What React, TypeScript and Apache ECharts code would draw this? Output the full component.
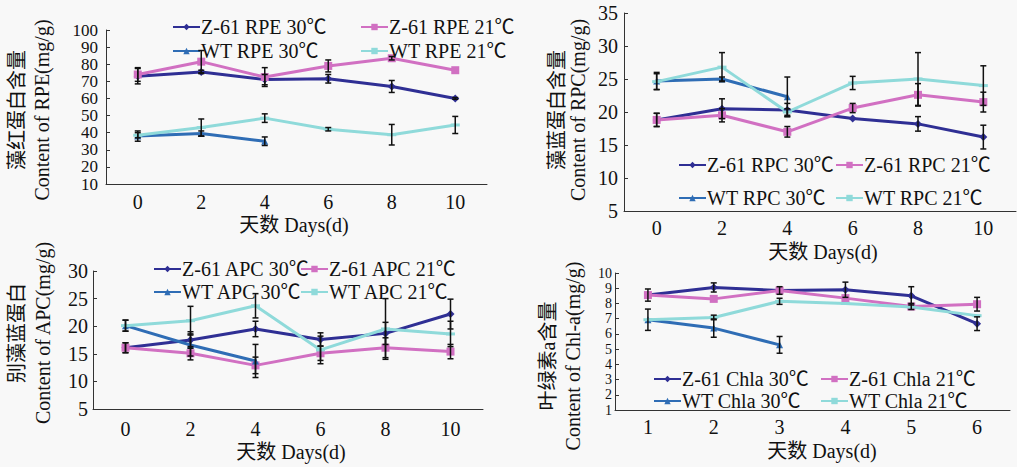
import React, { useEffect, useRef } from "react";
import * as echarts from "echarts";

const days = ["0", "2", "4", "6", "8", "10"];
const chlaDays = ["1", "2", "3", "4", "5", "6"];

// y tick labels
const rpeTicks = [10, 20, 30, 40, 50, 60, 70, 80, 90, 100];
const rpcTicks = [5, 10, 15, 20, 25, 30, 35];
const apcTicks = [5, 10, 15, 20, 25, 30];
const chlTicks = [1, 2, 3, 4, 5, 6, 7, 8, 9, 10];

// RPE (mg/g)
const rpeZ30 = [73, 75.5, 71, 71.5, 67, 60];
const rpeZ30Err = [4.5, 1, 3, 2.5, 3.5, 0.5];
const rpeZ21 = [74, 81.5, 72.5, 79, 83.5, 76.5];
const rpeZ21Err = [4, 6.5, 5.5, 3.5, 1, 0];
const rpeW30 = [38, 39.5, 35];
const rpeW30Err = [3, 1.5, 2.5];
const rpeW21 = [38.5, 43, 48.5, 42, 38.8, 44.5];
const rpeW21Err = [1.5, 5, 2.5, 1, 6, 5];

// RPC (mg/g)
const rpcZ30 = [18.8, 20.5, 20.3, 19, 18.2, 16.2];
const rpcZ30Err = [1, 1.5, 1, 0, 1.1, 1.8];
const rpcZ21 = [18.8, 19.5, 17, 20.6, 22.6, 21.5];
const rpcZ21Err = [1, 1, 0.8, 0.7, 1.7, 1.5];
const rpcW30 = [24.7, 25, 22.3];
const rpcW30Err = [1.3, 0.3, 3];
const rpcW21 = [24.6, 26.8, 20, 24.4, 25, 24];
const rpcW21Err = [1.2, 2.2, 0.5, 1, 4, 3];

// APC (mg/g)
const apcZ30 = [16.1, 17.5, 19.5, 17.6, 18.7, 22.2];
const apcZ30Err = [0.9, 1.5, 1.4, 1.2, 2, 2.7];
const apcZ21 = [16.1, 15.1, 12.9, 15.1, 16.1, 15.4];
const apcZ21Err = [0.9, 1.2, 1.5, 1.3, 1.8, 1.3];
const apcW30 = [20.1, 16.6, 13.7];
const apcW30Err = [1, 2, 3];
const apcW21 = [20.1, 21, 23.7, 15.7, 19.5, 18.6];
const apcW21Err = [1, 2.6, 2.2, 2.5, 5.5, 2.3];

// Chl-a (mg/g)
const chlZ30 = [8.55, 9.05, 8.85, 8.9, 8.5, 6.67];
const chlZ30Err = [0.4, 0.3, 0.25, 0.5, 0.6, 0.45];
const chlZ21 = [8.55, 8.3, 8.85, 8.35, 7.8, 7.95];
const chlZ21Err = [0, 0, 0, 0, 0.2, 0.45];
const chlW30 = [6.93, 6.38, 5.28];
const chlW30Err = [0.7, 0.6, 0.55];
const chlW21 = [6.93, 7.08, 8.14, 8.0, 7.76, 7.2];
const chlW21Err = [0, 0.15, 0.2, 0, 0, 0];

const FONT = "'Liberation Serif', 'Noto Sans CJK SC', serif";
const NAVY = "#2f2f94";
const PINK = "#d170c2";
const BLUE = "#2f6db5";
const CYAN = "#8fdada";

type Panel = {
  cats: string[];
  ticks: number[];
  min: number;
  max: number;
  interval: number;
  grid: { left: number; top: number; width: number; height: number };
  labelMargin: number;
  yLabelMargin: number;
  yLabelSize: number;
  names: string[];
  values: number[][];
  errs: number[][];
  legendCols: number[];
  legendTop: number;
  legendGap: number;
  yTitle: string;
  yTitlePos: [number, number];
  yTitleLH: number;
  xTitlePos: [number, number];
};

const panels: Panel[] = [
  {
    cats: days, ticks: rpeTicks, min: 10, max: 100, interval: 10,
    grid: { left: 106, top: 30, width: 381, height: 154 },
    labelMargin: 8, yLabelMargin: 8, yLabelSize: 17,
    names: ["Z-61 RPE 30℃", "Z-61 RPE 21℃", "WT RPE 30℃", "WT RPE 21℃"],
    values: [rpeZ30, rpeZ21, rpeW30, rpeW21],
    errs: [rpeZ30Err, rpeZ21Err, rpeW30Err, rpeW21Err],
    legendCols: [172, 360], legendTop: 25, legendGap: 20,
    yTitle: "藻红蛋白含量\nContent of RPE(mg/g)", yTitlePos: [29.5, 110], yTitleLH: 25,
    xTitlePos: [294, 225],
  },
  {
    cats: days, ticks: rpcTicks, min: 5, max: 35, interval: 5,
    grid: { left: 624, top: 13, width: 392, height: 198 },
    labelMargin: 7, yLabelMargin: 6, yLabelSize: 20,
    names: ["Z-61 RPC 30℃", "Z-61 RPC 21℃", "WT RPC 30℃", "WT RPC 21℃"],
    values: [rpcZ30, rpcZ21, rpcW30, rpcW21],
    errs: [rpcZ30Err, rpcZ21Err, rpcW30Err, rpcW21Err],
    legendCols: [678, 835], legendTop: 163, legendGap: 29,
    yTitle: "藻蓝蛋白含量\nContent of RPC(mg/g)", yTitlePos: [567, 110], yTitleLH: 21,
    xTitlePos: [823, 252],
  },
  {
    cats: days, ticks: apcTicks, min: 5, max: 30, interval: 5,
    grid: { left: 93, top: 271, width: 390, height: 138 },
    labelMargin: 10, yLabelMargin: 5, yLabelSize: 20,
    names: ["Z-61 APC 30℃", "Z-61 APC 21℃", "WT APC 30℃", "WT APC 21℃"],
    values: [apcZ30, apcZ21, apcW30, apcW21],
    errs: [apcZ30Err, apcZ21Err, apcW30Err, apcW21Err],
    legendCols: [153, 300], legendTop: 267, legendGap: 19,
    yTitle: "别藻蓝蛋白\nContent of APC(mg/g)", yTitlePos: [29.5, 333], yTitleLH: 26,
    xTitlePos: [291, 452],
  },
  {
    cats: chlaDays, ticks: chlTicks, min: 1, max: 10, interval: 1,
    grid: { left: 615, top: 273, width: 395, height: 137 },
    labelMargin: 7, yLabelMargin: 3, yLabelSize: 14,
    names: ["Z-61 Chla 30℃", "Z-61 Chla 21℃", "WT Chla 30℃", "WT Chla 21℃"],
    values: [chlZ30, chlZ21, chlW30, chlW21],
    errs: [chlZ30Err, chlZ21Err, chlW30Err, chlW21Err],
    legendCols: [653, 820], legendTop: 377, legendGap: 18,
    yTitle: "叶绿素a含量\nContent of Chl-a(mg/g)", yTitlePos: [560, 356], yTitleLH: 25,
    xTitlePos: [822, 451],
  },
];

const colors = [NAVY, PINK, BLUE, CYAN];
const symbols: any[] = ["diamond", "rect", "triangle", "rect"];
const symbolSizes: any[] = [8, 8, 7, [9, 3]];

function errRender(params: any, api: any) {
  const x = api.value(0);
  const lo = api.coord([x, api.value(1)]);
  const hi = api.coord([x, api.value(2)]);
  const cap = 3;
  const style = { stroke: "#111", lineWidth: 1.5 };
  return {
    type: "group",
    children: [
      { type: "line", shape: { x1: lo[0], y1: lo[1], x2: hi[0], y2: hi[1] }, style },
      { type: "line", shape: { x1: lo[0] - cap, y1: lo[1], x2: lo[0] + cap, y2: lo[1] }, style },
      { type: "line", shape: { x1: hi[0] - cap, y1: hi[1], x2: hi[0] + cap, y2: hi[1] }, style },
    ],
  };
}

function makeTickRender(margin: number, size: number) {
  return (params: any, api: any) => {
    const v = api.value(1);
    const pt = api.coord([0, v]);
    return {
      type: "text",
      x: params.coordSys.x - margin,
      y: pt[1],
      style: {
        text: String(v), font: `${size}px ${FONT}`, fill: "#111",
        align: "right", verticalAlign: "middle",
      },
    };
  };
}

function buildOption() {
  const grid: any[] = [];
  const xAxis: any[] = [];
  const yAxis: any[] = [];
  const series: any[] = [];
  const legend: any[] = [];
  const graphic: any[] = [];
  const axisLine = { lineStyle: { color: "#333", width: 1 } };
  panels.forEach((p, pi) => {
    grid.push({ ...p.grid });
    xAxis.push({
      type: "category", gridIndex: pi, data: p.cats, boundaryGap: true,
      axisLine, axisTick: { inside: true, length: 4, lineStyle: { color: "#333" } },
      axisLabel: { fontFamily: FONT, fontSize: 20, color: "#111", margin: p.labelMargin },
      splitLine: { show: false },
    });
    yAxis.push({
      type: "value", gridIndex: pi, min: p.min, max: p.max, interval: p.interval,
      axisLine: { show: true, ...axisLine },
      axisTick: { show: true, inside: true, length: 4, lineStyle: { color: "#333" } },
      axisLabel: { show: false },
      splitLine: { show: false },
    });
    series.push({
      type: "custom", name: "yticks" + pi, xAxisIndex: pi, yAxisIndex: pi,
      renderItem: makeTickRender(p.yLabelMargin, p.yLabelSize),
      data: p.ticks.map((t) => [0, t]), encode: { x: 0, y: 1 },
      clip: false, silent: true, z: 6,
    });
    p.names.forEach((name, si) => {
      series.push({
        type: "line", name, xAxisIndex: pi, yAxisIndex: pi,
        data: p.values[si],
        symbol: symbols[si], symbolSize: symbolSizes[si],
        itemStyle: { color: colors[si] },
        lineStyle: { color: colors[si], width: 3 },
        z: 3,
      });
      const errData: number[][] = [];
      p.values[si].forEach((v, i) => {
        const e = p.errs[si][i];
        if (e > 0) errData.push([i, v - e, v + e]);
      });
      series.push({
        type: "custom", name: name + " err", xAxisIndex: pi, yAxisIndex: pi,
        renderItem: errRender, data: errData, encode: { x: 0, y: [1, 2] }, z: 5,
        silent: true,
      });
    });
    [0, 1].forEach((col) => {
      legend.push({
        orient: "vertical",
        left: p.legendCols[col], top: p.legendTop - 8,
        data: [p.names[col], p.names[col + 2]],
        itemWidth: 27, itemHeight: 8, itemGap: p.legendGap - 16, padding: 0,
        textStyle: { fontFamily: FONT, fontSize: 20, color: "#111", lineHeight: 16, padding: [0, 0, 0, -4] },
        selectedMode: false,
      });
    });
    graphic.push({
      type: "text", x: p.yTitlePos[0], y: p.yTitlePos[1], rotation: Math.PI / 2,
      style: {
        text: p.yTitle, font: `20px ${FONT}`, fill: "#111",
        textAlign: "center", textVerticalAlign: "middle", lineHeight: p.yTitleLH,
      },
    });
    graphic.push({
      type: "text", x: p.xTitlePos[0], y: p.xTitlePos[1],
      style: {
        text: "天数 Days(d)", font: `20px ${FONT}`, fill: "#111",
        textAlign: "center", textVerticalAlign: "middle",
      },
    });
  });
  return {
    animation: false,
    backgroundColor: "#f8f8f8",
    grid, xAxis, yAxis, series, legend, graphic,
  };
}

export default function App() {
  const ref = useRef<HTMLDivElement>(null);
  useEffect(() => {
    if (!ref.current) return;
    const chart = echarts.init(ref.current, undefined, { renderer: "svg" });
    chart.setOption(buildOption() as any);
    return () => chart.dispose();
  }, []);
  return (
    <div
      ref={ref}
      style={{ position: "absolute", left: 0, top: 0, width: 1017, height: 467, background: "#f8f8f8" }}
    />
  );
}
